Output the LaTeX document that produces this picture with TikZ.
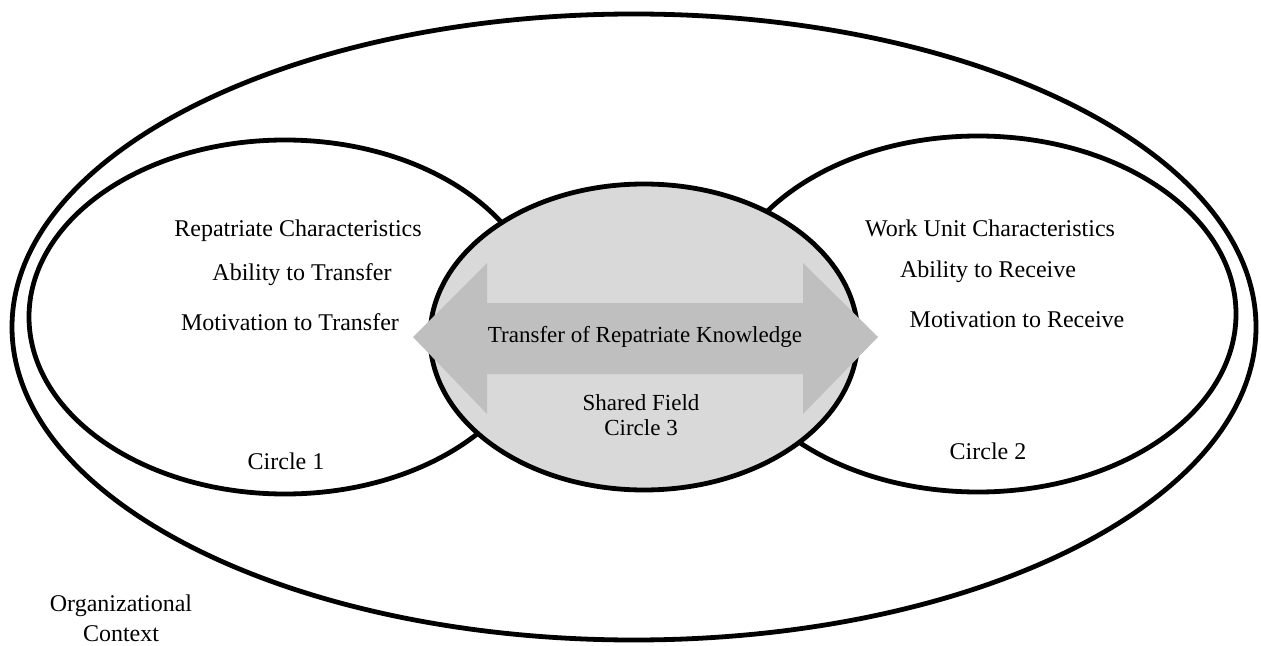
\documentclass[tikz,border=0pt]{standalone}
\usepackage{fontspec}
\setmainfont{Liberation Serif}
\begin{document}
\begin{tikzpicture}[x=0.5pt,y=-0.5pt,
  ring/.style={line width=2.4pt, draw=black},
  lbl/.style={font=\fontsize{12}{14}\selectfont, inner sep=0pt, align=center},
  mid/.style={font=\fontsize{11.5}{13}\selectfont, inner sep=0pt, align=center}]
\useasboundingbox (0,0) rectangle (1261,646);
% outer context
\draw[ring] (634,327) ellipse [x radius=622, y radius=313];
% circle 1 and circle 2
\draw[ring, fill=white] (285,317) ellipse [x radius=256, y radius=177];
\draw[ring, fill=white] (978,314) ellipse [x radius=258, y radius=178];
% circle 3 shared field
\draw[ring, fill=black!15] (644,337) ellipse [x radius=214, y radius=153];
% double arrow
\fill[black!25] (413,337) -- (487,263) -- (487,303) -- (803,303) -- (803,263)
  -- (878,337) -- (803,414) -- (803,374) -- (487,374) -- (487,414) -- cycle;
% texts
\node[lbl] (rc) at (298,231) {Repatriate Characteristics};
\node[lbl] (at) at (302,275) {Ability to Transfer};
\node[lbl] (mt) at (290,322) {Motivation to Transfer};
\node[lbl] (c1) at (286,461) {Circle 1};
\node[mid] (trk) at (645,337) {Transfer of Repatriate Knowledge};
\node[mid] (sf) at (641,403) {Shared Field};
\node[mid] (c3) at (641,428) {Circle 3};
\node[lbl] (wc) at (990,228) {Work Unit Characteristics};
\node[lbl] (ar) at (988,272) {Ability to Receive};
\node[lbl] (mr) at (1017,320) {Motivation to Receive};
\node[lbl] (c2) at (988,451) {Circle 2};
\node[lbl] (oc) at (121,618) {Organizational\\[1pt]Context};
\end{tikzpicture}
\end{document}
